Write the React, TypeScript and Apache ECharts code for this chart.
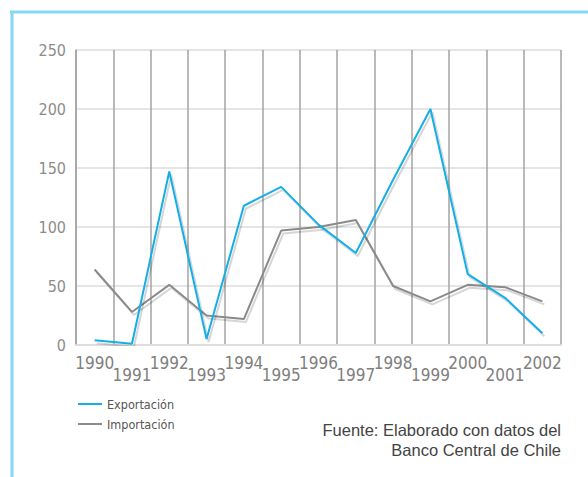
import React, { useEffect, useRef } from "react";
import * as echarts from "echarts";

const years = ["1990", "1991", "1992", "1993", "1994", "1995", "1996", "1997", "1998", "1999", "2000", "2001", "2002"];
const exportacion = [4, 1, 147, 5, 118, 134, 102, 78, 140, 200, 60, 40, 10];
const importacion = [64, 28, 51, 25, 22, 97, 100, 106, 50, 37, 51, 49, 37];
const yTicks = [0, 50, 100, 150, 200, 250];
const sourceLines = ["Fuente: Elaborado con datos del", "Banco Central de Chile"];

const NARROW = "'Liberation Sans Narrow', 'DejaVu Sans Condensed', sans-serif";

export default function App() {
  const ref = useRef<HTMLDivElement>(null);
  useEffect(() => {
    if (!ref.current) return;
    const chart = echarts.init(ref.current, null, { renderer: "svg" });
    const shadow = { shadowColor: "rgba(0,0,0,0.16)", shadowBlur: 1, shadowOffsetX: 2, shadowOffsetY: 3 };
    chart.setOption({
      animation: false,
      backgroundColor: "#ffffff",
      grid: { left: 76, right: 27, top: 50, bottom: 132, containLabel: false },
      legend: {
        orient: "vertical",
        left: 78,
        top: 397,
        padding: 0,
        itemWidth: 24,
        itemHeight: 14,
        itemGap: 6,
        icon: "path://M0,0 L24,0 L24,2 L0,2 Z",
        textStyle: { fontFamily: NARROW, fontSize: 12.5, lineHeight: 14, color: "#555" },
        data: ["Exportación", "Importación"],
      },
      xAxis: {
        type: "category",
        data: years,
        boundaryGap: true,
        axisLine: { show: true, lineStyle: { color: "#dddddd", width: 2 } },
        axisTick: { show: false },
        splitLine: { show: true, interval: 0, lineStyle: { color: "#a3a3a3", width: 1.5 } },
        axisLabel: {
          interval: 0,
          margin: 9,
          fontFamily: NARROW,
          fontSize: 17,
          color: "#808080",
          formatter: (v: string, i: number) => (i % 2 === 0 ? `{a|${v}}` : `{b|${v}}`),
          rich: {
            a: { fontFamily: NARROW, fontSize: 17, color: "#808080", padding: [0, 0, 0, 0] },
            b: { fontFamily: NARROW, fontSize: 17, color: "#808080", padding: [12, 0, 0, 0] },
          },
        },
      },
      yAxis: {
        type: "value",
        min: yTicks[0],
        max: yTicks[yTicks.length - 1],
        interval: 50,
        axisLine: { show: true, lineStyle: { color: "#a3a3a3", width: 1.5 } },
        axisTick: { show: false },
        splitLine: { show: true, lineStyle: { color: "#dcdcdc", width: 1.5 } },
        axisLabel: { margin: 10, fontFamily: NARROW, fontSize: 16, color: "#8c8c8c" },
      },
      series: [
        {
          name: "Importación",
          type: "line",
          data: importacion,
          symbol: "none",
          lineStyle: { color: "#8a8a8a", width: 2, ...shadow },
          itemStyle: { color: "#8a8a8a" },
        },
        {
          name: "Exportación",
          type: "line",
          data: exportacion,
          symbol: "none",
          lineStyle: { color: "#15aee6", width: 2, ...shadow },
          itemStyle: { color: "#15aee6" },
        },
      ],
      graphic: [
        { type: "line", shape: { x1: 10, y1: 12, x2: 588, y2: 12 }, style: { stroke: "#86d6f4", lineWidth: 3 } },
        { type: "line", shape: { x1: 12, y1: 11, x2: 12, y2: 477 }, style: { stroke: "#86d6f4", lineWidth: 3 } },
        ...sourceLines.map((t, i) => ({
          type: "text",
          x: 561,
          y: 430 + i * 20,
          style: {
            text: t,
            fontFamily: "'Liberation Sans', Arial, sans-serif",
            fontSize: 16.5,
            fill: "#444",
            align: "right",
            verticalAlign: "middle",
          },
        })),
      ],
    });
    return () => chart.dispose();
  }, []);
  return <div ref={ref} style={{ position: "fixed", left: 0, top: 0, width: 588, height: 477 }} />;
}
